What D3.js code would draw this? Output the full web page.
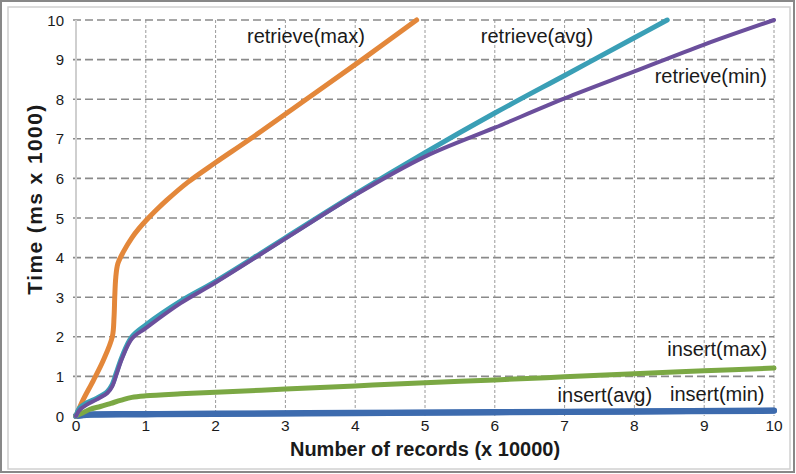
<!DOCTYPE html>
<html>
<head>
<meta charset="utf-8">
<script src="https://cdn.jsdelivr.net/npm/d3@7"></script>
<style>
  body { margin: 0; background: #fff; }
  text { font-family: "Liberation Sans", Arial, Helvetica, sans-serif; fill: #1a1a1a; }
</style>
</head>
<body>
<svg id="chart" width="796" height="474"></svg>
<script>
/*=================
=== Data (x: records x 10000, y: ms x 1000)
=================*/
var xTicks = [0, 1, 2, 3, 4, 5, 6, 7, 8, 9, 10];
var yTicks = [0, 1, 2, 3, 4, 5, 6, 7, 8, 9, 10];

var retrieveMax = [[0,0],[0.1,0.4],[0.25,0.9],[0.39,1.4],[0.52,2.0],[0.545,2.5],[0.555,3.0],[0.57,3.5],[0.6,3.85],[0.68,4.15],[0.8,4.5],[0.9,4.73],[1.0,4.93],[1.15,5.2],[1.3,5.45],[1.6,5.9],[2.0,6.4],[2.5,7.0],[3.3,8.0],[4.1,9.0],[4.88,10]];
var retrieveAvg = [[0,0],[0.05,0.2],[0.15,0.33],[0.3,0.45],[0.45,0.62],[0.52,0.8],[0.58,1.1],[0.66,1.5],[0.8,2.0],[1,2.3],[1.5,2.9],[2,3.4],[3,4.5],[4,5.6],[5,6.65],[6,7.65],[7,8.6],[8,9.55],[8.47,10]];
var retrieveMin = [[0,0],[0.05,0.15],[0.15,0.28],[0.3,0.42],[0.45,0.58],[0.52,0.75],[0.58,1.05],[0.66,1.45],[0.8,1.95],[1,2.22],[1.5,2.85],[2,3.37],[3,4.48],[4,5.58],[5,6.55],[6,7.28],[7,8.02],[8,8.7],[9,9.38],[10,10]];
var insertMax = [[0,0],[0.1,0.08],[0.2,0.17],[0.35,0.24],[0.5,0.32],[0.65,0.4],[0.8,0.47],[1,0.51],[1.5,0.56],[2,0.6],[3,0.68],[4,0.76],[5,0.84],[6,0.91],[7,0.99],[8,1.07],[9,1.14],[10,1.21]];
var insertAvg = [[0,0],[0.2,0.03],[1,0.04],[2,0.05],[4,0.07],[6,0.09],[8,0.11],[10,0.13]];
var insertMin = [[0,0],[0.2,0.04],[1,0.05],[2,0.06],[4,0.08],[6,0.1],[8,0.12],[10,0.14]];

var series = [
	{ name: 'insert(avg)', data: insertAvg, color: '#3d6bae', width: 6 },
	{ name: 'insert(min)', data: insertMin, color: '#3d6bae', width: 6 },
	{ name: 'insert(max)', data: insertMax, color: '#7ba844', width: 5 },
	{ name: 'retrieve(max)', data: retrieveMax, color: '#e3873a', width: 5 },
	{ name: 'retrieve(avg)', data: retrieveAvg, color: '#3a9fb6', width: 5 },
	{ name: 'retrieve(min)', data: retrieveMin, color: '#6b4f9c', width: 4 }
];

// label spots in data units (left edge, baseline)
var labels = [
	{ text: 'retrieve(max)', x: 2.45, y: 9.41 },
	{ text: 'retrieve(avg)', x: 5.8, y: 9.41 },
	{ text: 'retrieve(min)', x: 8.29, y: 8.41 },
	{ text: 'insert(max)', x: 8.47, y: 1.52 },
	{ text: 'insert(avg)', x: 6.9, y: 0.36 },
	{ text: 'insert(min)', x: 8.51, y: 0.39 }
];

/*=================
=== Setup
=================*/
var svg = d3.select('#chart');
var W = 796, H = 474;

// frame
svg.append('rect').attr('x', 1).attr('y', 1).attr('width', W - 3).attr('height', H - 3)
	.attr('fill', 'none').attr('stroke', '#888').attr('stroke-width', 2);
svg.append('rect').attr('x', 8).attr('y', 7).attr('width', 782).attr('height', 462)
	.attr('fill', 'none').attr('stroke', '#d0d0d0').attr('stroke-width', 1.5);

var x = d3.scaleLinear().domain([0, 10]).range([76, 774]);
var y = d3.scaleLinear().domain([0, 10]).range([416, 20]);

// vertical grid
svg.append('g').selectAll('line')
	.data(xTicks.filter(d => d > 0))
	.enter()
	.append('line')
	.attr('x1', d => x(d)).attr('x2', d => x(d))
	.attr('y1', y(10)).attr('y2', y(0))
	.attr('stroke', '#9a9a9a').attr('stroke-width', 1)
	.attr('stroke-dasharray', '3,2');

// horizontal grid
svg.append('g').selectAll('line')
	.data(yTicks.filter(d => d > 0))
	.enter()
	.append('line')
	.attr('x1', x(0) - 3).attr('x2', x(10))
	.attr('y1', d => y(d)).attr('y2', d => y(d))
	.attr('stroke', '#8a8a8a').attr('stroke-width', 1.6)
	.attr('stroke-dasharray', '8,4');

// y axis line
svg.append('line')
	.attr('x1', x(0)).attr('x2', x(0))
	.attr('y1', y(10)).attr('y2', y(0))
	.attr('stroke', '#cfcfcf').attr('stroke-width', 2);

// tick labels
svg.append('g').selectAll('text')
	.data(yTicks)
	.enter()
	.append('text')
	.attr('x', 64)
	.attr('y', d => y(d) + 5.5)
	.attr('text-anchor', 'end')
	.attr('font-size', 15)
	.text(d => d);

svg.append('g').selectAll('text')
	.data(xTicks)
	.enter()
	.append('text')
	.attr('x', d => x(d))
	.attr('y', 431)
	.attr('text-anchor', 'middle')
	.attr('font-size', 15.5)
	.text(d => d);

// axis titles
svg.append('text')
	.attr('transform', 'translate(42,199) rotate(-90)')
	.attr('text-anchor', 'middle')
	.attr('font-size', 21)
	.attr('font-weight', 'bold')
	.attr('letter-spacing', 1.4)
	.text('Time (ms x 1000)');

svg.append('text')
	.attr('x', 425)
	.attr('y', 456)
	.attr('text-anchor', 'middle')
	.attr('font-size', 20)
	.attr('font-weight', 'bold')
	.text('Number of records (x 10000)');

/*=================
=== Lines
=================*/
var pathLine = d3.line()
	.x(d => x(d[0]))
	.y(d => y(d[1]))
	.curve(d3.curveCatmullRom.alpha(0.5));

svg.append('g').selectAll('path')
	.data(series)
	.enter()
	.append('path')
	.attr('d', d => pathLine(d.data))
	.attr('fill', 'none')
	.attr('stroke', d => d.color)
	.attr('stroke-width', d => d.width)
	.attr('stroke-linecap', 'round')
	.attr('stroke-linejoin', 'round');

svg.append('g').selectAll('text')
	.data(labels)
	.enter()
	.append('text')
	.attr('x', d => x(d.x))
	.attr('y', d => y(d.y))
	.attr('font-size', 20)
	.text(d => d.text);
</script>
</body>
</html>
